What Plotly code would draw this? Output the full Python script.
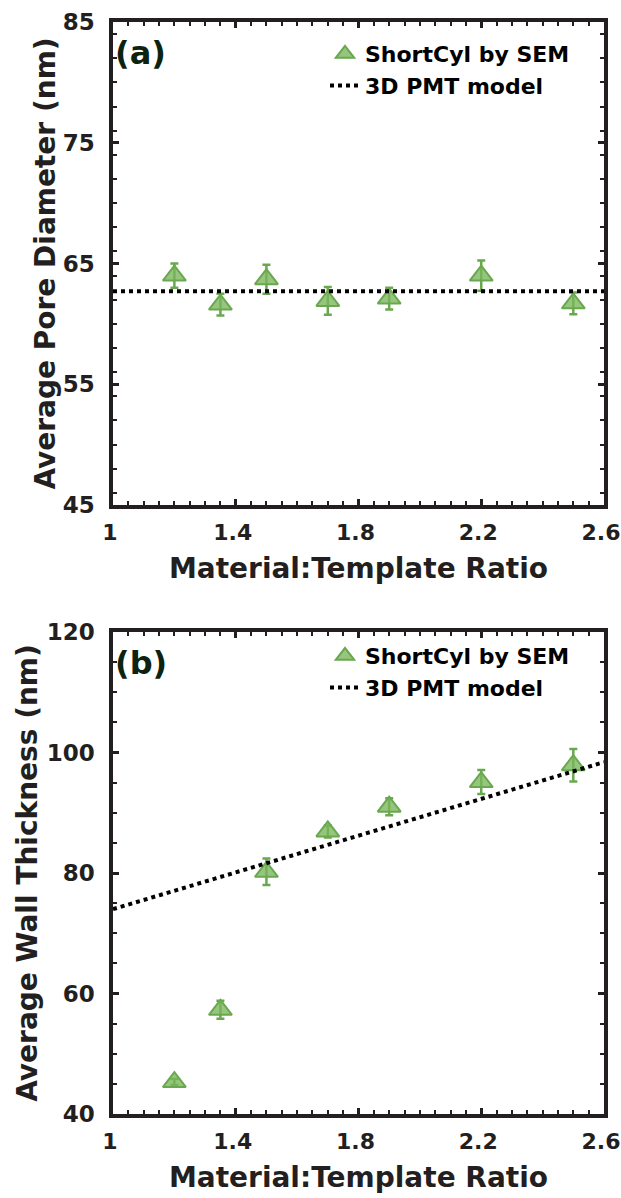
import plotly.graph_objects as go

# ---- data ----
ratio = [1.2, 1.35, 1.5, 1.7, 1.9, 2.2, 2.5]
pore_sem = [64.0, 61.6, 63.7, 61.9, 62.1, 64.0, 61.7]
pore_err = [1.0, 0.9, 1.2, 1.15, 0.9, 1.25, 0.9]
wall_sem = [45.3, 57.3, 80.2, 86.9, 91.0, 95.1, 97.9]
wall_err = [0.5, 1.5, 2.2, 1.0, 1.4, 2.0, 2.7]
model_x = [1.0, 2.6]
pore_model = [62.7, 62.7]
wall_model = [74.0, 98.4]
x_ticks = [1, 1.4, 1.8, 2.2, 2.6]
x_ticklabels = ["1", "1.4", "1.8", "2.2", "2.6"]
pore_ticks = [45, 55, 65, 75, 85]
wall_ticks = [40, 60, 80, 100, 120]

FONT = "DejaVu Sans, Arial, sans-serif"
GREEN = "rgb(106,168,79)"
GREEN_FILL = "rgba(120,182,90,0.78)"
AXC = "#231f20"
TXT = "#231f20"

fig = go.Figure()

def add_panel(yvals, yerr, ymodel, xa, ya, legend):
    fig.add_trace(go.Scatter(
        x=ratio, y=yvals, mode="markers", name="<b>ShortCyl by SEM</b>",
        xaxis=xa, yaxis=ya, legend=legend,
        marker=dict(symbol="triangle-up", size=20, color=GREEN_FILL,
                    line=dict(color=GREEN, width=2)),
        error_y=dict(type="data", array=yerr, visible=True, color=GREEN,
                     thickness=2.5, width=4),
    ))
    fig.add_trace(go.Scatter(
        x=model_x, y=ymodel, mode="lines", name="<b>3D PMT model</b>",
        xaxis=xa, yaxis=ya, legend=legend,
        line=dict(color="black", width=4, dash="dot"),
    ))

add_panel(pore_sem, pore_err, pore_model, "x", "y", "legend")
add_panel(wall_sem, wall_err, wall_model, "x2", "y2", "legend2")

T, B = 22, 84
H = 1198
ph = H - T - B

def py(pix):
    return (1114 - pix) / ph

axis_common = dict(
    showline=True, linewidth=3.5, linecolor=AXC, mirror="allticks",
    ticks="inside", ticklen=6, tickwidth=3, tickcolor=AXC,
    showgrid=False, zeroline=False, automargin=False,
)

title_font = dict(family=FONT, size=28, color=TXT)

xcommon = dict(axis_common, range=[1, 2.6], tickvals=x_ticks,
               ticktext=[f"<b>{t}</b>" for t in x_ticklabels],
               tickfont=dict(family=FONT, size=22, color=TXT),
               ticklabeloverflow="allow", ticklabelshift=-3,
               minor=dict(dtick=0.05, tick0=1, ticks="inside", ticklen=4, tickwidth=2, tickcolor=AXC),
               ticklabelstandoff=5,
               title=dict(text="<b>Material:Template Ratio</b>", font=title_font, standoff=15))

ycommon = dict(axis_common, tickfont=dict(family=FONT, size=23, color=TXT), ticklabelstandoff=10)

fig.update_layout(
    width=621, height=H,
    margin=dict(l=113, r=17, t=T, b=B),
    paper_bgcolor="white", plot_bgcolor="white",
    xaxis=dict(xcommon, domain=[0, 1], anchor="y"),
    xaxis2=dict(xcommon, domain=[0, 1], anchor="y2"),
    yaxis=dict(ycommon, domain=[py(505), 1.0], anchor="x", range=[45, 85],
               tickvals=pore_ticks, ticktext=[f"<b>{t}</b>" for t in pore_ticks],
               minor=dict(dtick=2, tick0=0, ticks="inside", ticklen=4, tickwidth=2, tickcolor=AXC),
               title=dict(text="<b>Average Pore Diameter (nm)</b>", font=title_font, standoff=0)),
    yaxis2=dict(ycommon, domain=[0, py(632)], anchor="x2", range=[40, 120],
                tickvals=wall_ticks, ticktext=[f"<b>{t}</b>" for t in wall_ticks],
                minor=dict(dtick=5, tick0=0, ticks="inside", ticklen=4, tickwidth=2, tickcolor=AXC),
                title=dict(text="<b>Average Wall Thickness (nm)</b>", font=title_font, standoff=2)),
    legend=dict(x=(325 - 113) / 491, y=py(33), xanchor="left", yanchor="top",
                bgcolor="rgba(0,0,0,0)", font=dict(family=FONT, size=22, color="black"),
                itemwidth=30, tracegroupgap=0),
    legend2=dict(x=(325 - 113) / 491, y=py(635), xanchor="left", yanchor="top",
                 bgcolor="rgba(0,0,0,0)", font=dict(family=FONT, size=22, color="black"),
                 itemwidth=30, tracegroupgap=0),
    showlegend=True,
)

fig.add_annotation(text="<b>(a)</b>", xref="x domain", yref="y domain", x=0.0, y=0.935,
                   xanchor="left", yanchor="middle", showarrow=False,
                   font=dict(family=FONT, size=32, color="#0b230f"))
fig.add_annotation(text="<b>(b)</b>", xref="x2 domain", yref="y2 domain", x=0.0, y=0.935,
                   xanchor="left", yanchor="middle", showarrow=False,
                   font=dict(family=FONT, size=32, color="#0b230f"))

fig.write_html("out.html", config={"displayModeBar": False},
               post_script="document.body.style.margin='0px';")
